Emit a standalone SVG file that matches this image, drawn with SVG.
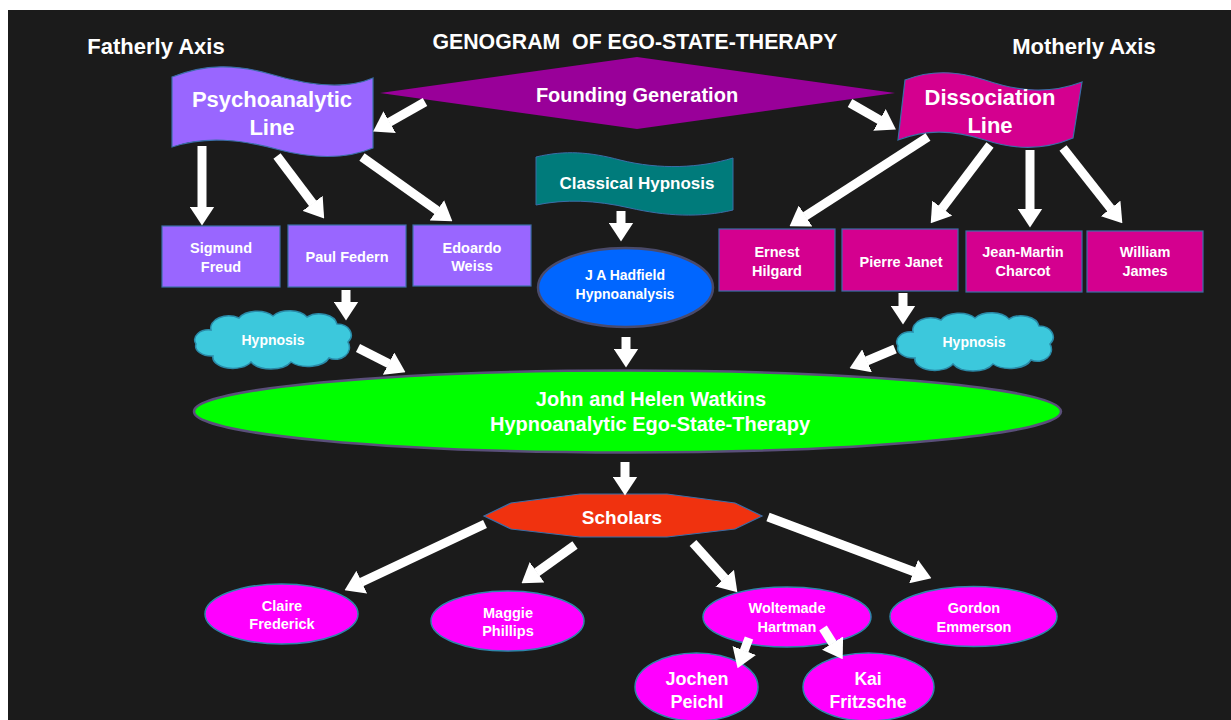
<svg xmlns="http://www.w3.org/2000/svg" width="1231" height="720" viewBox="0 0 1231 720">
  <defs>
    <style>
      text { font-family: "Liberation Sans", Arial, sans-serif; font-weight: bold; fill: #ffffff; text-anchor: middle; }
      .head { font-size: 21.3px; }
      .axis { font-size: 22px; }
      .banner { font-size: 22px; }
      .box-text { font-size: 14.5px; }
      .cloud-text { font-size: 14px; }
      .purple { fill: #9966ff; stroke: #3b6ea8; stroke-width: 1.2; }
      .magenta { fill: #d4008f; stroke: #3b6ea8; stroke-width: 1.2; }
      .person { fill: #ff00ff; stroke: #2e86ab; stroke-width: 1.5; }
      .cloud { fill: #3cc8dc; stroke: #2a8aa8; stroke-width: 1.5; }
      .arrow { stroke: #ffffff; stroke-width: 9; fill: none; marker-end: url(#head); }
    </style>
    <marker id="head" viewBox="0 0 19 25" refX="0.5" refY="12.5" markerWidth="19" markerHeight="25" orient="auto" markerUnits="userSpaceOnUse">
      <path d="M0,0 L19,12.5 L0,25 Z" fill="#ffffff"/>
    </marker>
    <path id="cloud-shape" d="M20,20 A18,12 0 0 1 48,8 A20,12 0 0 1 82,6 A20,12 0 0 1 116,7 A18,12 0 0 1 146,14 A14,11 0 0 1 157,32 A14,12 0 0 1 138,48 A22,12 0 0 1 100,52 A22,12 0 0 1 60,52 A20,11 0 0 1 22,46 A16,10 0 0 1 5,34 A14,10 0 0 1 20,20 Z"/>
  </defs>

  <!-- page frame -->
  <rect x="0" y="0" width="1231" height="720" fill="#ffffff"/>
  <rect x="8" y="10" width="1223" height="710" fill="#1b1b1b"/>

  <!-- headings -->
  <text class="axis" x="156" y="54">Fatherly Axis</text>
  <text class="head" x="635" y="49" xml:space="preserve">GENOGRAM  OF EGO-STATE-THERAPY</text>
  <text class="axis" x="1084" y="54">Motherly Axis</text>

  <!-- founding generation diamond -->
  <g id="founding">
    <polygon points="380,93 637,57 895,93 637,129" fill="#990099"/>
    <text x="637" y="102" font-size="20">Founding Generation</text>
  </g>

  <!-- line banners -->
  <g id="psychoanalytic-line">
    <path class="purple" d="M172,77 C205,64 235,64 270,74 C310,86 345,90 373,78 L373,148 C345,160 310,158 280,150 C240,139 205,136 172,147 Z"/>
    <text class="banner" x="272" y="107">Psychoanalytic</text>
    <text class="banner" x="272" y="135">Line</text>
  </g>
  <g id="dissociation-line">
    <path class="magenta" d="M905,80 C930,70 955,70 985,80 C1020,92 1050,94 1082,82 L1073,138 C1045,150 1015,150 985,140 C950,129 925,130 898,140 Z"/>
    <text class="banner" x="990" y="105">Dissociation</text>
    <text class="banner" x="990" y="133">Line</text>
  </g>
  <g id="classical-hypnosis">
    <path d="M536,157 C565,150 590,152 620,160 C660,170 700,168 733,158 L733,210 C700,218 665,216 630,208 C595,200 565,199 536,205 Z" fill="#007b7b" stroke="#3b6ea8" stroke-width="1"/>
    <text x="637" y="189" font-size="17">Classical Hypnosis</text>
  </g>

  <!-- fatherly axis persons -->
  <g id="freud">
    <rect class="purple" x="162" y="226" width="118" height="61"/>
    <text class="box-text" x="221" y="253">Sigmund</text>
    <text class="box-text" x="221" y="272">Freud</text>
  </g>
  <g id="federn">
    <rect class="purple" x="288" y="225" width="118" height="62"/>
    <text class="box-text" x="347" y="262">Paul Federn</text>
  </g>
  <g id="weiss">
    <rect class="purple" x="413" y="225" width="118" height="61"/>
    <text class="box-text" x="472" y="253">Edoardo</text>
    <text class="box-text" x="472" y="271">Weiss</text>
  </g>

  <!-- hadfield -->
  <g id="hadfield">
    <ellipse cx="625.5" cy="287.5" rx="87.5" ry="39.5" fill="#0066ff" stroke="#4a4a6a" stroke-width="2.5"/>
    <text x="625" y="280" font-size="14">J A Hadfield</text>
    <text x="625" y="299" font-size="14">Hypnoanalysis</text>
  </g>

  <!-- motherly axis persons -->
  <g id="hilgard">
    <rect class="magenta" x="719" y="229" width="116" height="62"/>
    <text class="box-text" x="777" y="257">Ernest</text>
    <text class="box-text" x="777" y="276">Hilgard</text>
  </g>
  <g id="janet">
    <rect class="magenta" x="842" y="229" width="116" height="62"/>
    <text class="box-text" x="901" y="267">Pierre Janet</text>
  </g>
  <g id="charcot">
    <rect class="magenta" x="966" y="231" width="116" height="61"/>
    <text class="box-text" x="1023" y="257">Jean-Martin</text>
    <text class="box-text" x="1023" y="276">Charcot</text>
  </g>
  <g id="james">
    <rect class="magenta" x="1087" y="231" width="116" height="61"/>
    <text class="box-text" x="1145" y="257">William</text>
    <text class="box-text" x="1145" y="276">James</text>
  </g>

  <!-- hypnosis clouds -->
  <g id="hypnosis-left">
    <use href="#cloud-shape" class="cloud" transform="translate(191,310)"/>
    <text class="cloud-text" x="273" y="345">Hypnosis</text>
  </g>
  <g id="hypnosis-right">
    <use href="#cloud-shape" class="cloud" transform="translate(893,312)"/>
    <text class="cloud-text" x="974" y="347">Hypnosis</text>
  </g>

  <!-- watkins -->
  <g id="watkins">
    <ellipse cx="627.5" cy="411.5" rx="433.5" ry="41" fill="#00ff00" stroke="#5a4f7a" stroke-width="2.5"/>
    <text x="651" y="406" font-size="20">John and Helen Watkins</text>
    <text x="650" y="431" font-size="20">Hypnoanalytic Ego-State-Therapy</text>
  </g>

  <!-- scholars -->
  <g id="scholars">
    <polygon points="484,516 511,503 580,494 667,494 735,503 762,516 735,529 667,537 580,537 511,529" fill="#f0320f" stroke="#3b6ea8" stroke-width="1.2"/>
    <text x="622" y="524" font-size="19">Scholars</text>
  </g>

  <!-- later generation -->
  <g id="frederick">
    <ellipse class="person" cx="281.5" cy="614" rx="76.5" ry="30"/>
    <text class="box-text" x="282" y="611">Claire</text>
    <text class="box-text" x="282" y="629">Frederick</text>
  </g>
  <g id="phillips">
    <ellipse class="person" cx="507.5" cy="621" rx="76.5" ry="30"/>
    <text class="box-text" x="508" y="618">Maggie</text>
    <text class="box-text" x="508" y="636">Phillips</text>
  </g>
  <g id="hartman">
    <ellipse class="person" cx="787" cy="617" rx="84" ry="30"/>
    <text class="box-text" x="787" y="613">Woltemade</text>
    <text class="box-text" x="787" y="632">Hartman</text>
  </g>
  <g id="emmerson">
    <ellipse class="person" cx="973.5" cy="616.5" rx="83.5" ry="30"/>
    <text class="box-text" x="974" y="613">Gordon</text>
    <text class="box-text" x="974" y="632">Emmerson</text>
  </g>
  <g id="peichl">
    <ellipse class="person" cx="696.5" cy="687" rx="61.5" ry="34"/>
    <text x="697" y="685" font-size="18">Jochen</text>
    <text x="697" y="708" font-size="18">Peichl</text>
  </g>
  <g id="fritzsche">
    <ellipse class="person" cx="868.5" cy="687" rx="65.5" ry="34"/>
    <text x="868" y="685" font-size="17.5">Kai</text>
    <text x="868" y="708" font-size="17.5">Fritzsche</text>
  </g>

  <!-- connectors, drawn over the nodes -->
  <g id="connectors">
    <line class="arrow" x1="425" y1="102" x2="389.2" y2="122.4"/>
    <line class="arrow" x1="850" y1="103" x2="879.9" y2="120.2"/>
    <line class="arrow" x1="202" y1="146" x2="202" y2="207"/>
    <line class="arrow" x1="277" y1="156" x2="313" y2="203.7"/>
    <line class="arrow" x1="362" y1="157" x2="437.3" y2="210.6"/>
    <line class="arrow" x1="621" y1="211" x2="621" y2="223"/>
    <line class="arrow" x1="928" y1="137" x2="805.1" y2="216.2"/>
    <line class="arrow" x1="990" y1="145" x2="941.9" y2="208.6"/>
    <line class="arrow" x1="1030" y1="150" x2="1030" y2="209"/>
    <line class="arrow" x1="1063" y1="148" x2="1110.9" y2="208.8"/>
    <line class="arrow" x1="346" y1="290" x2="346" y2="302"/>
    <line class="arrow" x1="358" y1="348" x2="389" y2="363.8"/>
    <line class="arrow" x1="626" y1="337" x2="626" y2="349"/>
    <line class="arrow" x1="903" y1="293" x2="903" y2="306"/>
    <line class="arrow" x1="895" y1="349" x2="866.6" y2="361"/>
    <line class="arrow" x1="625" y1="462" x2="625" y2="477"/>
    <line class="arrow" x1="485" y1="524" x2="361.3" y2="582.3"/>
    <line class="arrow" x1="575" y1="545" x2="536.6" y2="572.5"/>
    <line class="arrow" x1="693" y1="543" x2="725" y2="578.6"/>
    <line class="arrow" x1="768" y1="517" x2="914.1" y2="571.7"/>
    <line class="arrow" x1="749" y1="638" x2="744.1" y2="651"/>
    <line class="arrow" x1="823" y1="628" x2="832.8" y2="643.5"/>
  </g>
</svg>
